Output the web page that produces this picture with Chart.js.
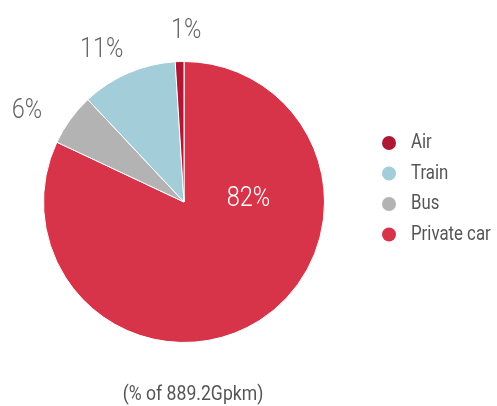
<!DOCTYPE html>
<html lang="en">
<head>
  <meta charset="UTF-8" />
  <title>Passenger transport by mode</title>
  <script src="https://cdn.jsdelivr.net/npm/chart.js"></script>
  <style>
    html, body { margin: 0; padding: 0; background: #fff; }
    .chart-wrapper { position: relative; width: 497px; height: 406px; }
  </style>
</head>
<body>
<div class="chart-wrapper">
  <canvas id="modeChart" width="497" height="406"></canvas>
</div>

<script>
  // legend order (top to bottom)
  const modes = ['Air', 'Train', 'Bus', 'Private car'];
  const shares = [1, 11, 6, 82];
  const modeColors = ['#ae1834', '#a2cdd9', '#b3b3b3', '#d7344a'];
  const caption = '(% of 889.2Gpkm)';

  const FONT = 'Roboto, "DejaVu Sans", sans-serif';
  const NARROW = 0.84; // squeeze text horizontally, original uses a condensed face

  // slices are drawn counter-clockwise from 12 o'clock, so feed them reversed
  const drawOrder = [3, 2, 1, 0];

  // where each percent label sits: angle offset (deg) from slice middle, distance as a factor of radius
  const labelPlace = {
    'Air':         { da: 2.5,  r: 1.23, color: '#666' },
    'Train':       { da: -4.8, r: 1.24, color: '#666' },
    'Bus':         { da: -5.3, r: 1.30, color: '#666' },
    'Private car': { da: -62,  r: 0.46, color: '#fff' }
  };

  function narrowText(ctx, text, x, y) {
    ctx.save();
    ctx.translate(x, y);
    ctx.scale(NARROW, 1);
    ctx.fillText(text, 0, 0);
    ctx.restore();
  }

  const labelsPlugin = {
    id: 'pieLabels',
    afterDatasetsDraw(chart) {
      const ctx = chart.ctx;
      const meta = chart.getDatasetMeta(0);
      ctx.save();
      ctx.font = '300 28px ' + FONT;
      ctx.textAlign = 'center';
      ctx.textBaseline = 'middle';
      meta.data.forEach((arc, i) => {
        const name = chart.data.labels[i];
        const p = labelPlace[name];
        const mid = (arc.startAngle + arc.endAngle) / 2 + p.da * Math.PI / 180;
        const x = arc.x + Math.cos(mid) * arc.outerRadius * p.r;
        const y = arc.y + Math.sin(mid) * arc.outerRadius * p.r + 2;
        ctx.fillStyle = p.color;
        narrowText(ctx, chart.data.datasets[0].data[i] + '%', x, y);
      });

      // legend on the right
      ctx.font = '20px ' + FONT;
      ctx.textAlign = 'left';
      modes.forEach((m, i) => {
        const y = 143 + i * 30.5;
        ctx.beginPath();
        ctx.arc(389, y, 7, 0, Math.PI * 2);
        ctx.fillStyle = modeColors[i];
        ctx.fill();
        ctx.fillStyle = '#555';
        narrowText(ctx, m, 411, y);
      });

      // caption under the pie
      ctx.font = '21px ' + FONT;
      ctx.textAlign = 'center';
      ctx.textBaseline = 'alphabetic';
      ctx.fillStyle = '#555';
      narrowText(ctx, caption, 193, 400);
      ctx.restore();
    }
  };

  const configModes = {
    type: 'pie',
    data: {
      labels: drawOrder.map(i => modes[i]),
      datasets: [{
        data: drawOrder.map(i => shares[i]),
        backgroundColor: drawOrder.map(i => modeColors[i]),
        borderColor: '#ffffff',
        borderWidth: 1
      }]
    },
    options: {
      responsive: false,
      animation: false,
      rotation: 0,
      layout: {
        padding: { left: 43, right: 172, top: 61, bottom: 63 }
      },
      plugins: {
        legend: { display: false },
        tooltip: { enabled: false }
      }
    },
    plugins: [labelsPlugin]
  };

  const ctx = document.getElementById('modeChart').getContext('2d');
  new Chart(ctx, configModes);
</script>

</body>
</html>
